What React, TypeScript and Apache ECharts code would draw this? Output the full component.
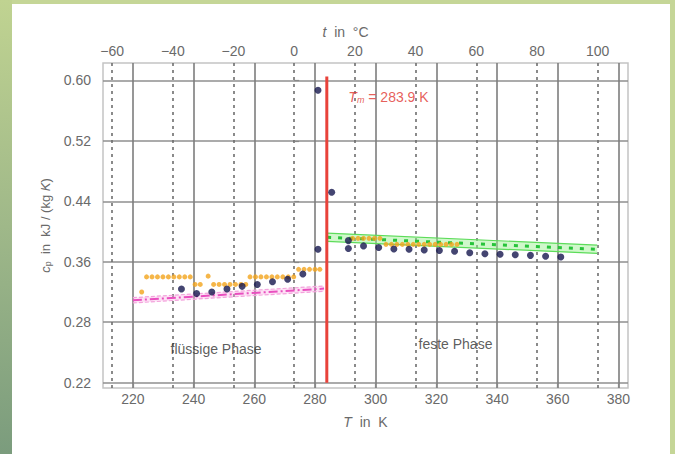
import React, { useEffect, useRef } from "react";
import * as echarts from "echarts";

// ---- axis settings / tick labels ----
const kTicks = [220, 240, 260, 280, 300, 320, 340, 360, 380];
const cTicks = [-60, -40, -20, 0, 20, 40, 60, 80, 100];
const yTicks = [0.2, 0.28, 0.36, 0.44, 0.52, 0.6];
const yTickLabels = ["0.22", "0.28", "0.36", "0.44", "0.52", "0.60"];
const K0 = 273.15;
const xMinK = 210.15;
const xMaxK = 383.15;
const yMin = 0.193;
const yMax = 0.623;

// melting temperature
const Tm = 283.9;
const redLine = [
  [Tm, 0.2],
  [Tm, 0.605],
];

// ---- measured points (dark blue) ----
const bluePoints = [
  [236, 0.324], [241, 0.318], [246, 0.32], [251, 0.324], [256, 0.3275],
  [261, 0.33], [266, 0.3336], [271, 0.3368], [276, 0.3438], [281, 0.3765],
  [281, 0.587], [285.5, 0.452],
  [291, 0.388], [291, 0.3775], [296, 0.381], [301, 0.379], [306, 0.377],
  [311, 0.3765], [316, 0.3755], [321, 0.375], [326, 0.374], [331, 0.372],
  [336, 0.3706], [341, 0.37], [346, 0.3693], [351, 0.3685], [356, 0.3672],
  [361, 0.3663],
];

// ---- measured points (orange) ----
const orangePoints = [
  [222.9, 0.32],
  [224.5, 0.34], [226.3, 0.34], [228.1, 0.34], [229.9, 0.34], [231.7, 0.34],
  [233.5, 0.34], [235.3, 0.34], [237.1, 0.34], [238.9, 0.34],
  [240.5, 0.33], [242.2, 0.33],
  [244.8, 0.341],
  [246.6, 0.33], [248.4, 0.33], [250.2, 0.33], [252.0, 0.33], [253.8, 0.33],
  [255.6, 0.33], [257.2, 0.33],
  [258.6, 0.34], [260.4, 0.34], [262.2, 0.34], [264.0, 0.34], [265.8, 0.34],
  [267.6, 0.34], [269.4, 0.34], [271.2, 0.34], [273.0, 0.34],
  [274.6, 0.35], [276.4, 0.35], [278.2, 0.35], [280.0, 0.35], [281.6, 0.35],
  [292.4, 0.391], [294.2, 0.391], [296.0, 0.391], [297.8, 0.391], [299.6, 0.391],
  [301.4, 0.391],
  [303.4, 0.383], [305.2, 0.383], [307.0, 0.383], [308.8, 0.383], [310.6, 0.383],
  [312.4, 0.383], [314.2, 0.383], [316.0, 0.383], [317.8, 0.383], [319.6, 0.383],
  [321.4, 0.383], [323.2, 0.383], [325.0, 0.383], [326.8, 0.383],
];

// ---- fits (liquid: pink, solid: green) ----
const liquidFit = [[220, 0.309], [283, 0.3245]];
const liquidUpper = [[220, 0.3125], [283, 0.328]];
const liquidLower = [[220, 0.3055], [283, 0.321]];
const solidFit = [[284, 0.3925], [373, 0.3765]];
const solidUpper = [[284, 0.398], [373, 0.382]];
const solidLower = [[284, 0.387], [373, 0.371]];

// ---- annotations ----
const tmLabelPos = [291, 0.578];
const liquidLabelPos = [247.4, 0.2443];
const solidLabelPos = [326.3, 0.251];

const FONT = "'Liberation Sans', Arial, Helvetica, sans-serif";
const GREY = "#6a6a6a";

function bandSeries(upper: number[][], lower: number[][], fill: string, stroke: string, dashed: boolean) {
  return {
    type: "custom",
    data: [[upper[0][0], upper[0][1]]],
    silent: true,
    z: 2,
    renderItem: (_params: any, api: any) => {
      const pts = [
        ...upper.map((p) => api.coord(p)),
        ...lower.slice().reverse().map((p) => api.coord(p)),
      ];
      const up = upper.map((p) => api.coord(p));
      const lo = lower.map((p) => api.coord(p));
      return {
        type: "group",
        children: [
          { type: "polygon", shape: { points: pts }, style: { fill, stroke: "none" } },
          {
            type: "polyline",
            shape: { points: up },
            style: { stroke, lineWidth: 1.2, fill: "none", lineDash: dashed ? [4, 2] : null },
          },
          {
            type: "polyline",
            shape: { points: lo },
            style: { stroke, lineWidth: 1.2, fill: "none", lineDash: dashed ? [4, 2] : null },
          },
        ],
      };
    },
  };
}

export default function App() {
  const ref = useRef<HTMLDivElement>(null);
  useEffect(() => {
    if (!ref.current) return;
    const chart = echarts.init(ref.current, null, { renderer: "svg" });
    const option: any = {
      animation: false,
      textStyle: { fontFamily: FONT },
      grid: {
        left: 103,
        right: 47,
        top: 63,
        bottom: 66,
        show: true,
        borderColor: "#c4c4c4",
        borderWidth: 1.5,
        backgroundColor: "transparent",
      },
      xAxis: [
        {
          type: "value",
          position: "bottom",
          min: xMinK,
          max: xMaxK,
          name: "{i|T}  in  K",
          nameLocation: "middle",
          nameGap: 27,
          nameTextStyle: {
            color: GREY,
            fontSize: 14,
            fontFamily: FONT,
            rich: { i: { fontStyle: "italic", color: GREY, fontSize: 14, fontFamily: FONT } },
          },
          axisLine: { show: false },
          axisTick: { show: true, inside: true, length: 5, customValues: kTicks, lineStyle: { color: "#888", width: 1.2 } },
          axisLabel: { customValues: kTicks, color: GREY, fontSize: 14, margin: 4, fontFamily: FONT },
          splitLine: { show: true, lineStyle: { color: "#7d7d7d", width: 1.6 } },
        },
        {
          type: "value",
          position: "top",
          min: xMinK - K0,
          max: xMaxK - K0,
          name: "{i|t}  in  °C",
          nameLocation: "middle",
          nameGap: 23,
          nameTextStyle: {
            color: GREY,
            fontSize: 14,
            fontFamily: FONT,
            padding: [0, 40, 0, 0],
            rich: { i: { fontStyle: "italic", color: GREY, fontSize: 14, fontFamily: FONT } },
          },
          axisLine: { show: false },
          axisTick: { show: false, customValues: cTicks },
          axisLabel: {
            customValues: cTicks,
            color: GREY,
            fontSize: 14,
            margin: 5,
            fontFamily: FONT,
            formatter: (v: number) => (v < 0 ? "\u2212" + Math.abs(v) : String(v)),
          },
          splitLine: { show: true, lineStyle: { color: "#6e6e6e", width: 1.6, type: [3, 4] } },
        },
      ],
      yAxis: {
        type: "value",
        min: yMin,
        max: yMax,
        name: "{i|c}{s|p}  in  kJ / (kg {i|K})",
        nameLocation: "middle",
        nameGap: 51,
        nameRotate: 90,
        nameTextStyle: {
          color: GREY,
          fontSize: 13,
          fontFamily: FONT,
          rich: {
            i: { fontStyle: "italic", color: GREY, fontSize: 13, fontFamily: FONT },
            s: { color: GREY, fontSize: 9, verticalAlign: "bottom", fontFamily: FONT },
          },
        },
        axisLine: { show: false },
        axisTick: { show: true, inside: true, length: 5, customValues: yTicks, lineStyle: { color: "#888", width: 1.2 } },
        axisLabel: {
          customValues: yTicks,
          color: GREY,
          fontSize: 14,
          margin: 12,
          fontFamily: FONT,
          formatter: (v: number) => {
            let best = 0;
            yTicks.forEach((t, i) => {
              if (Math.abs(t - v) < Math.abs(yTicks[best] - v)) best = i;
            });
            return yTickLabels[best];
          },
        },
        splitLine: { show: true, lineStyle: { color: "#8f8f8f", width: 1.6 } },
      },
      series: [
        bandSeries(liquidUpper, liquidLower, "rgba(248,170,225,0.35)", "#f3a3dc", true),
        bandSeries(solidUpper, solidLower, "rgba(150,240,140,0.45)", "#5ddc5a", false),
        {
          type: "line",
          data: liquidFit,
          symbol: "none",
          z: 3,
          lineStyle: { color: "#e94fbf", width: 2, type: [9, 3, 2, 3] },
        },
        {
          type: "line",
          data: solidFit,
          symbol: "none",
          z: 3,
          lineStyle: { color: "#27c43a", width: 3, type: [4, 7] },
        },
        {
          type: "line",
          data: redLine,
          symbol: "none",
          z: 4,
          lineStyle: { color: "#e8423a", width: 3 },
        },
        {
          type: "scatter",
          data: orangePoints,
          symbol: "circle",
          symbolSize: 5,
          z: 5,
          itemStyle: { color: "#f3a41c" },
        },
        {
          type: "scatter",
          data: bluePoints,
          symbol: "circle",
          symbolSize: 7,
          z: 6,
          itemStyle: { color: "#15174d" },
        },
        {
          type: "scatter",
          symbolSize: 0,
          z: 7,
          silent: true,
          data: [
            {
              value: tmLabelPos,
              label: {
                show: true,
                position: "right",
                distance: 0,
                formatter: "{i|T}{s|m} = 283.9 K",
                color: "#e0352f",
                fontSize: 14,
                fontFamily: FONT,
                rich: {
                  i: { fontStyle: "italic", color: "#e0352f", fontSize: 14, fontFamily: FONT },
                  s: { fontStyle: "italic", color: "#e0352f", fontSize: 9, verticalAlign: "bottom", fontFamily: FONT },
                },
              },
            },
            {
              value: liquidLabelPos,
              label: {
                show: true,
                position: "inside",
                formatter: "flüssige Phase",
                color: "#333",
                fontSize: 14,
                fontFamily: FONT,
              },
            },
            {
              value: solidLabelPos,
              label: {
                show: true,
                position: "inside",
                formatter: "feste Phase",
                color: "#333",
                fontSize: 14,
                fontFamily: FONT,
              },
            },
          ],
        },
      ],
    };
    chart.setOption(option);
    return () => chart.dispose();
  }, []);

  return (
    <div
      style={{
        position: "fixed",
        left: 0,
        top: 0,
        width: 675,
        height: 454,
        overflow: "hidden",
        background: "#c5d697",
      }}
    >
      <div
        style={{
          position: "absolute",
          left: 0,
          top: 0,
          width: 12,
          height: 454,
          background: "linear-gradient(180deg, #c0d391 0%, #9fb889 50%, #7b9c7d 100%)",
        }}
      />
      <div style={{ position: "absolute", left: 12, top: 4, width: 658, height: 450, background: "#ffffff" }} />
      <div ref={ref} style={{ position: "absolute", left: 0, top: 0, width: 675, height: 454 }} />
    </div>
  );
}
